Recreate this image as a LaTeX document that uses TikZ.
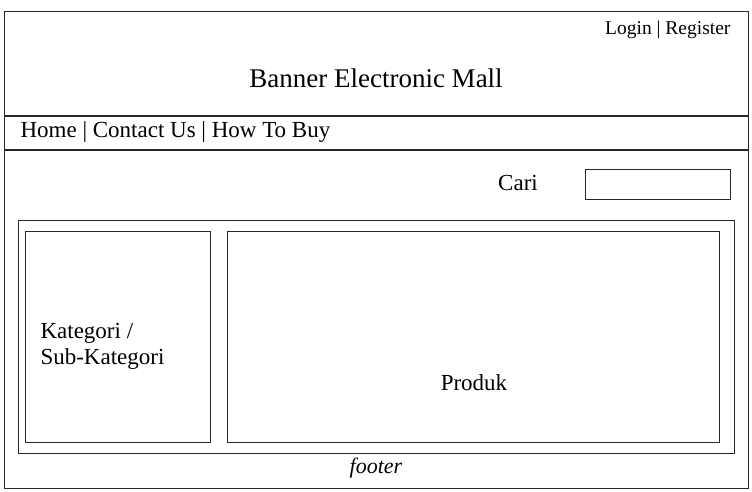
\documentclass[tikz,border=0pt]{standalone}
\usepackage{fontspec}
\setmainfont{Liberation Serif}
\usetikzlibrary{positioning,calc}
\definecolor{FrameGrey}{RGB}{40,40,40}

\begin{document}
\begin{tikzpicture}[x=1pt, y=-1pt, line width=1.1pt,
  every node/.style={font=\fontsize{23}{26}\selectfont, inner sep=0pt},
  box/.style={draw=FrameGrey, anchor=north west, inner sep=0pt}]
  \useasboundingbox (0,0) rectangle (752,492);
  % page frame and header bands
  \node[box, minimum width=744pt, minimum height=477pt] (page) at (4,11) {};
  \coordinate (hdrL) at (4,116);  \coordinate (hdrR) at (748,116);
  \coordinate (navL) at (4,150);  \coordinate (navR) at (748,150);
  \draw[FrameGrey] (hdrL) -- (hdrR);
  \draw[FrameGrey] (navL) -- (navR);
  \node[anchor=east, font=\fontsize{19.5}{22}\selectfont] (login) at (731,30) {Login | Register};
  \node[font=\fontsize{27}{30}\selectfont] (banner) at (376,78) {Banner Electronic Mall};
  \node[anchor=west] (menu) at (20,132) {Home | Contact Us | How To Buy};
  % search
  \node (cari) at (518,183) {Cari};
  \node[box, minimum width=145pt, minimum height=30pt] (search) at (585,169) {};
  % content
  \node[box, minimum width=716pt, minimum height=233pt] (content) at (18,220) {};
  \node[box, minimum width=185pt, minimum height=211pt] (kategori) at (25,231) {};
  \node[box, minimum width=492pt, minimum height=211pt] (produk) at (227,231) {};
  \node[anchor=west, align=left] (katlabel) at (40,346) {Kategori /\\Sub-Kategori};
  \node (prodlabel) at (474,383) {Produk};
  \node[font=\fontsize{22}{25}\selectfont\itshape] (footer) at (376,468) {footer};
\end{tikzpicture}
\end{document}
